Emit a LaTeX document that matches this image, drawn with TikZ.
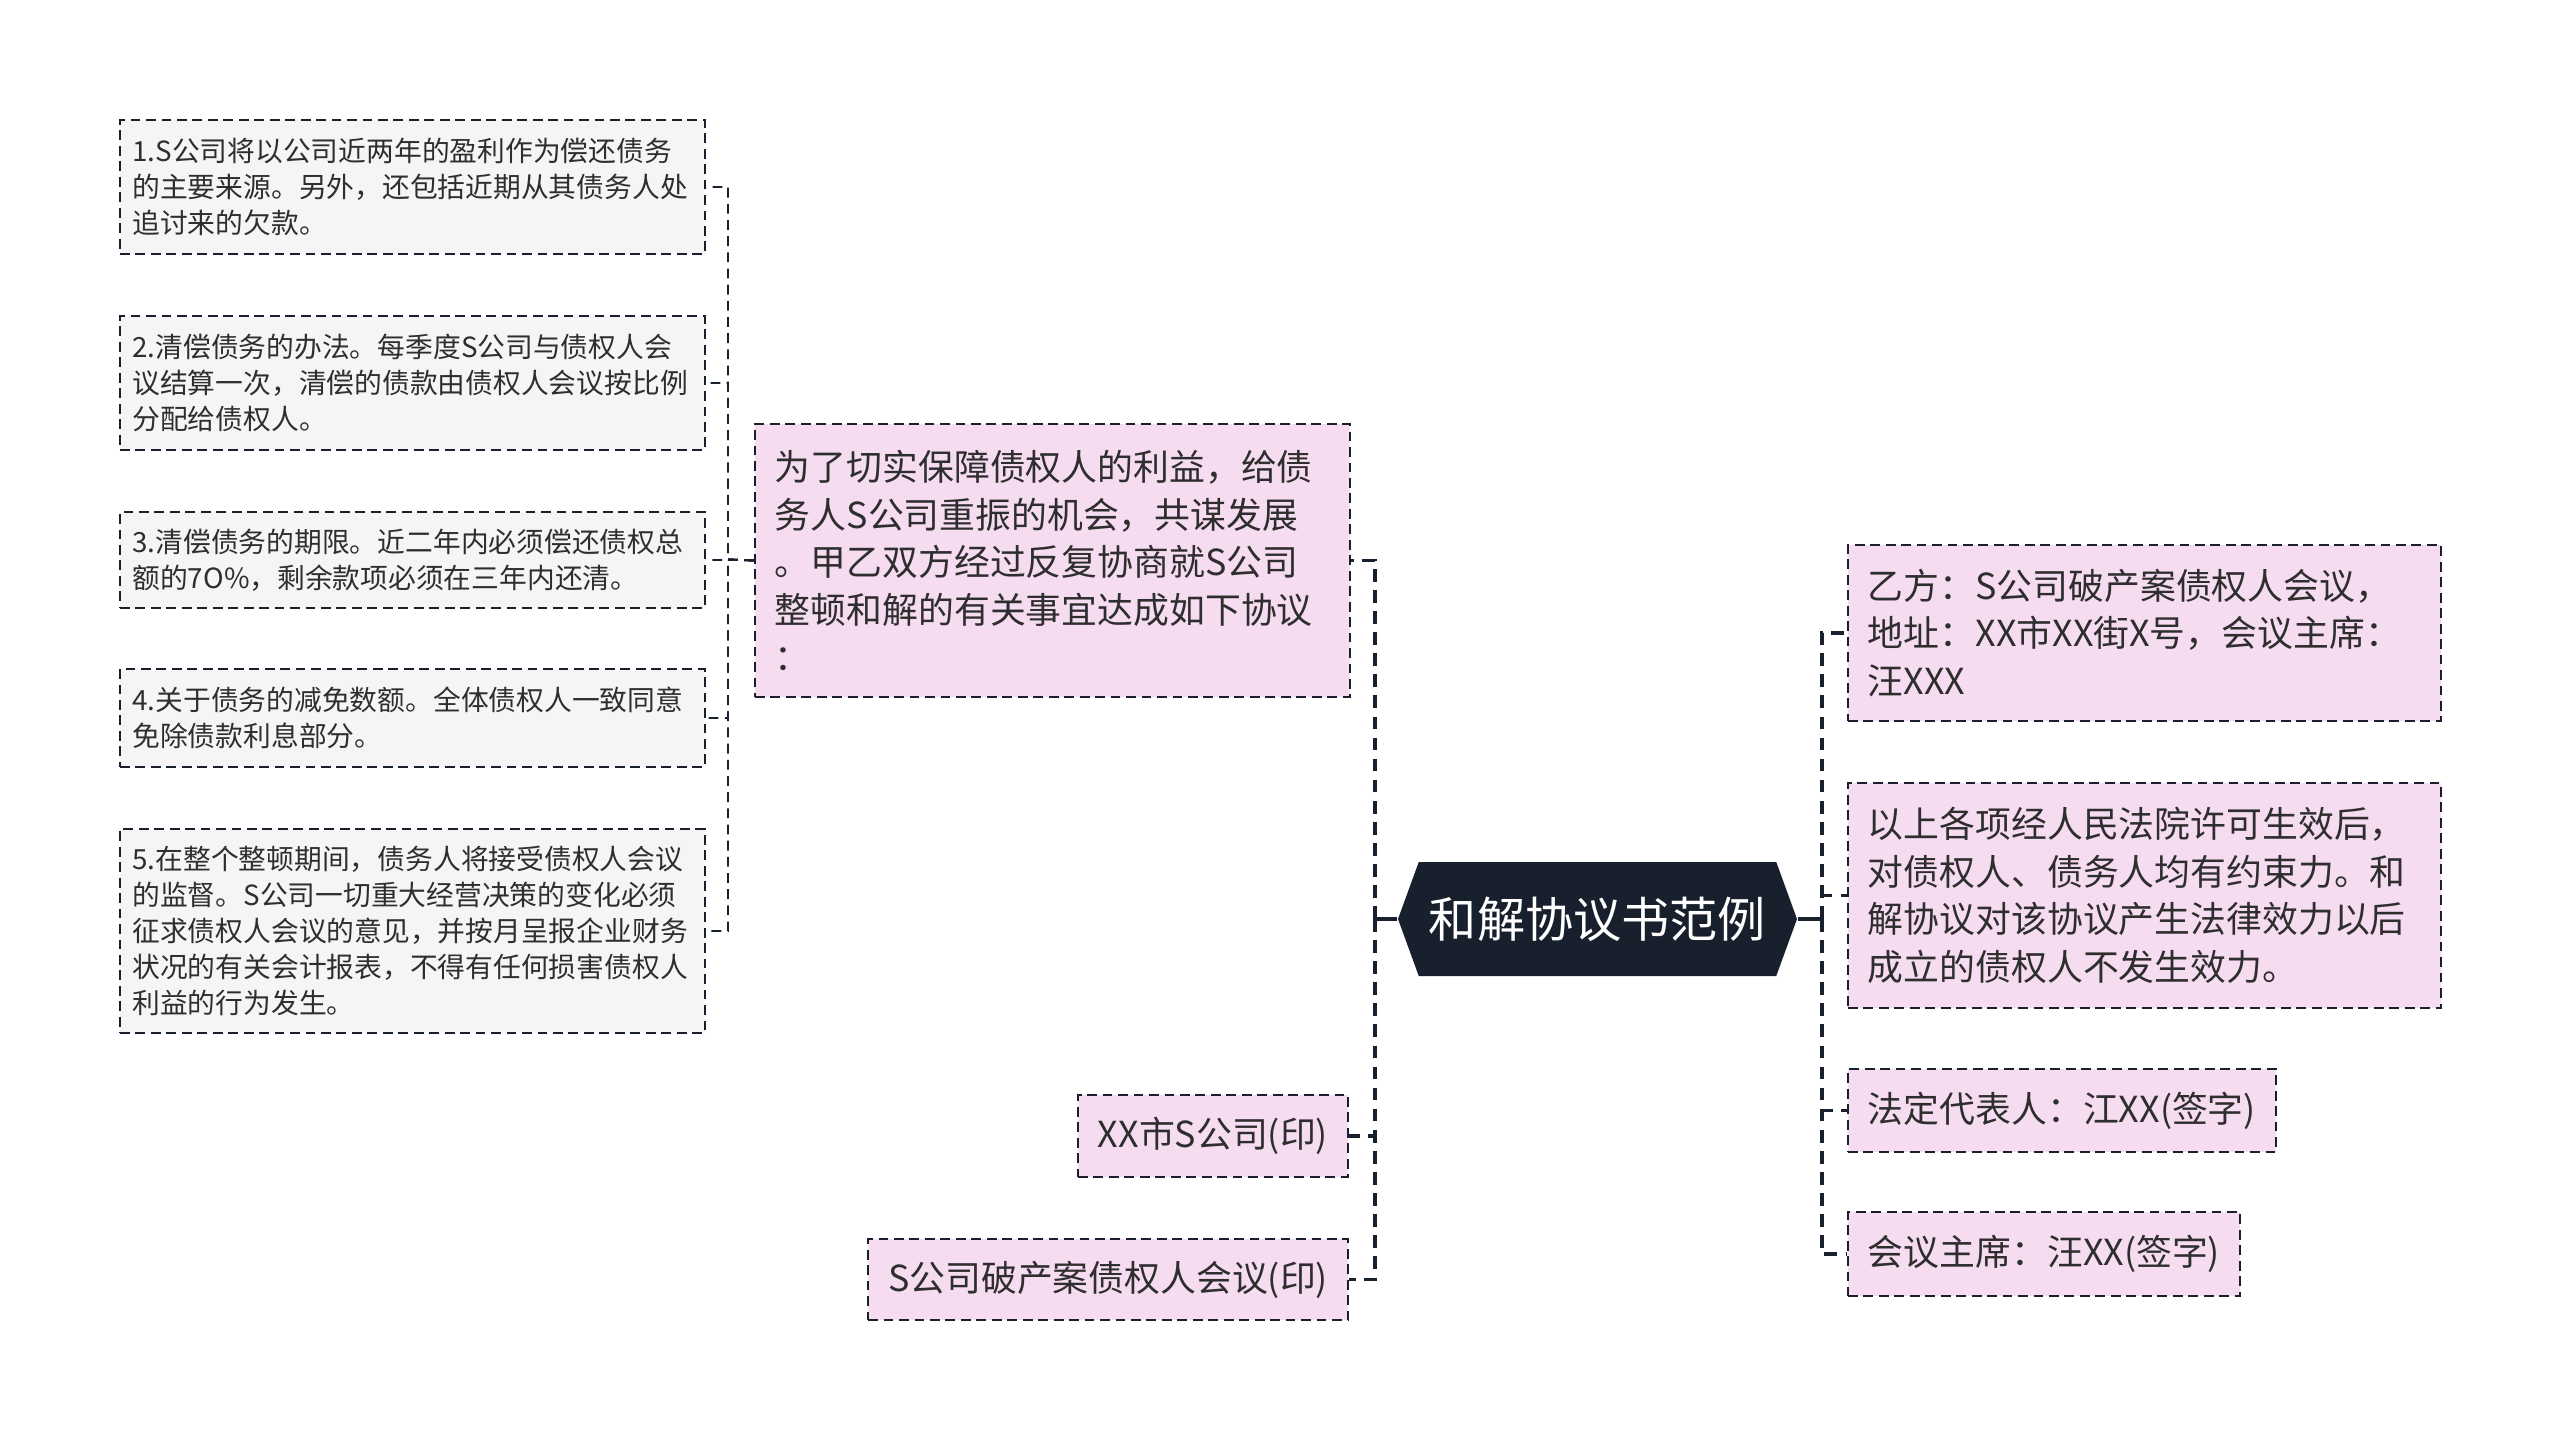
\documentclass[tikz,border=0pt]{standalone}
\usepackage{fontspec}
\setmainfont{Noto Sans CJK SC}
\usepackage{xcolor}
\usetikzlibrary{shapes.symbols}

\definecolor{inkdark}{HTML}{18202E}
\definecolor{pinkfill}{HTML}{F6DCF0}
\definecolor{greyfill}{HTML}{F5F5F5}
\definecolor{textgrey}{HTML}{2E2E2E}

\tikzset{
    leaf/.style={draw=inkdark, line width=0.55pt, dash pattern=on 2.8pt off 1.6pt,
        fill=pinkfill, text=textgrey, align=left, inner xsep=0.2cm, inner ysep=0pt,
        font=\fontsize{10.2}{13.5}\selectfont},
    subleaf/.style={leaf, fill=greyfill, anchor=north west, inner xsep=0.125cm,
        text width=5.6cm, font=\fontsize{7.9}{10.2}\selectfont},
    root/.style={shape=signal, signal to=west and east, signal pointer angle=140,
        fill=inkdark, text=white, inner sep=0pt, minimum width=3.99cm,
        minimum height=1.14cm, font=\fontsize{13.7}{16}\selectfont},
    stem/.style={draw=inkdark, line width=1pt},
    trunk/.style={draw=inkdark, line width=1pt, dash pattern=on 3.6pt off 2.4pt},
    twig/.style={draw=inkdark, line width=0.55pt, dash pattern=on 2.8pt off 1.8pt},
}

\begin{document}
\begin{tikzpicture}[x=1cm, y=-1cm]
    \useasboundingbox (0,0) rectangle (25.6,14.4);

    % centre
    \node[root] (root) at (15.975,9.19) {和解协议书范例};

    % left branch
    \node[leaf, anchor=north west, text width=5.55cm, minimum height=2.73cm] (terms) at (7.54,4.23)
        {为了切实保障债权人的利益，给债\\务人S公司重振的机会，共谋发展\\。甲乙双方经过反复协商就S公司\\整顿和解的有关事宜达成如下协议\\：};
    \node[leaf, anchor=north east, minimum height=0.82cm] (seal) at (13.49,10.94) {XX市S公司(印)};
    \node[leaf, anchor=north east, minimum height=0.81cm] (meetseal) at (13.49,12.38) {S公司破产案债权人会议(印)};

    % the five terms
    \node[subleaf, minimum height=1.34cm] (t1) at (1.19,1.19)
        {1.S公司将以公司近两年的盈利作为偿还债务\\的主要来源。另外，还包括近期从其债务人处\\追讨来的欠款。};
    \node[subleaf, minimum height=1.34cm] (t2) at (1.19,3.15)
        {2.清偿债务的办法。每季度S公司与债权人会\\议结算一次，清偿的债款由债权人会议按比例\\分配给债权人。};
    \node[subleaf, minimum height=0.96cm] (t3) at (1.19,5.11)
        {3.清偿债务的期限。近二年内必须偿还债权总\\额的7O\%，剩余款项必须在三年内还清。};
    \node[subleaf, minimum height=0.98cm] (t4) at (1.19,6.68)
        {4.关于债务的减免数额。全体债权人一致同意\\免除债款利息部分。};
    \node[subleaf, minimum height=2.04cm] (t5) at (1.19,8.28)
        {5.在整个整顿期间，债务人将接受债权人会议\\的监督。S公司一切重大经营决策的变化必须\\征求债权人会议的意见，并按月呈报企业财务\\状况的有关会计报表，不得有任何损害债权人\\利益的行为发生。};

    % right branch
    \node[leaf, anchor=north west, text width=5.53cm, minimum height=1.76cm] (partyb) at (18.47,5.44)
        {乙方：S公司破产案债权人会议，\\地址：XX市XX街X号，会议主席：\\汪XXX};
    \node[leaf, anchor=north west, text width=5.53cm, minimum height=2.25cm] (effect) at (18.47,7.82)
        {以上各项经人民法院许可生效后，\\对债权人、债务人均有约束力。和\\解协议对该协议产生法律效力以后\\成立的债权人不发生效力。};
    \node[leaf, anchor=north west, minimum height=0.83cm] (legal) at (18.47,10.68) {法定代表人：江XX(签字)};
    \node[leaf, anchor=north west, minimum height=0.84cm] (chair) at (18.47,12.11) {会议主席：汪XX(签字)};

    % connectors
    \coordinate (lhub) at (13.75,9.19);
    \coordinate (rhub) at (18.22,9.19);
    \coordinate (thub) at (7.28,5.595);
    \draw[stem] (root.west) -- (lhub);
    \draw[stem] (root.east) -- (rhub);
    \foreach \n in {terms,seal,meetseal}
        \draw[trunk] (lhub) |- (\n.east);
    \foreach \n in {partyb,effect,legal,chair}
        \draw[trunk] (rhub) |- (\n.west);
    \foreach \n in {t1,t2,t3,t4,t5}
        \draw[twig] (terms.west) -- (thub) |- (\n.east);
\end{tikzpicture}
\end{document}
